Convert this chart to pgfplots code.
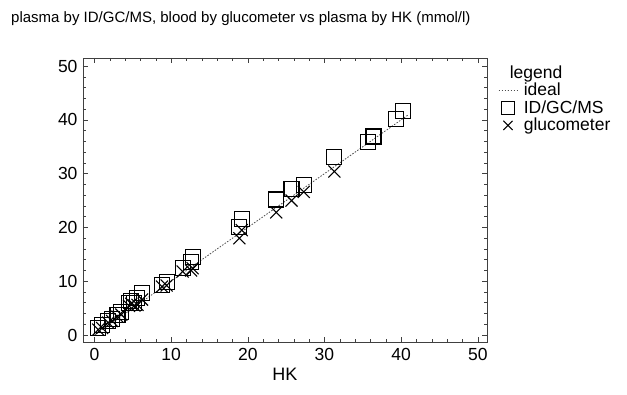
\documentclass[border=0pt]{standalone}
\usepackage{pgfplots}
\pgfplotsset{compat=1.18}
\usepackage{fontspec}
\setmainfont{Liberation Sans}
\begin{document}
\begin{tikzpicture}[x=1pt,y=1pt]
\useasboundingbox (0,0) rectangle (627,395);
\node[anchor=base west,font=\fontsize{15}{18}\selectfont,inner sep=0pt] at (11,372) {plasma by ID/GC/MS, blood by glucometer vs plasma by HK (mmol/l)};
\begin{axis}[
  at={(83pt,53pt)}, anchor=south west,
  scale only axis, width=404pt, height=284pt,
  xmin=-1.5, xmax=51.2, ymin=-1.3, ymax=51.5,
  xtick={0,10,...,50}, ytick={0,10,...,50},
  minor x tick num=4, minor y tick num=4,
  tick align=inside,
  major tick length=5pt, minor tick length=3pt,
  axis line style={black!75, line width=0.8pt},
  every tick/.style={black!75, line width=0.6pt},
  tick label style={font=\fontsize{17.5}{20}\selectfont},
  /pgf/number format/assume math mode=true,
  xticklabel style={yshift=-3pt},
  yticklabel style={xshift=-2pt},
  xlabel={HK},
  xlabel style={font=\fontsize{18}{20}\selectfont, yshift=0pt},
  legend style={at={(1.0,0.985)}, anchor=north west, draw=none, fill=none,
    font=\fontsize{17.5}{20}\selectfont, row sep=0.5pt, column sep=5pt, xshift=8pt,
    nodes={inner sep=1pt, text depth=2pt, text height=13pt}},
  legend cell align=left,
  legend image post style={mark size=6.5pt},
  legend image code/.code={
    \draw[mark repeat=2,mark phase=2,#1] plot coordinates {(0cm,0cm) (0.33cm,0cm) (0.66cm,0cm)};
  },
]
\addlegendimage{empty legend}\addlegendentry{\hspace{-14pt}legend}
\addplot[black!70, dash pattern=on 1.5pt off 1.5pt, line width=0.8pt, no marks] coordinates {(0,0) (41,41)};
\addlegendentry{ideal}
\addplot[only marks, mark=square, mark size=7.5pt, mark options={line width=1.1pt, black}] coordinates {
(0.5,1.3) (1.0,1.8) (1.8,2.6) (2.3,3.0) (3.0,3.8) (3.5,4.3) (4.5,5.9) (4.8,6.3) (5.2,6.0) (5.6,6.8) (6.2,7.8)
(8.8,9.3) (9.4,9.8) (11.5,12.5) (12.6,13.6) (12.8,14.5) (18.9,20.0) (19.2,21.5) (23.7,25.2) (25.7,27.1)
(27.3,27.9) (31.3,33.1) (35.7,35.8) (36.4,36.9) (39.3,40.1) (40.2,41.6)
};
\addlegendentry{ID/GC/MS}
\addplot[only marks, mark=x, mark size=8.5pt, mark options={line width=1.1pt, black}] coordinates {
(0.5,1.0) (1.0,1.3) (1.8,2.3) (2.3,2.6) (3.0,3.4) (3.5,3.8) (4.5,5.4) (4.8,5.8) (5.2,5.5) (5.6,5.6) (6.2,6.6)
(8.8,9.0) (9.4,9.2) (11.5,11.8) (12.6,12.0) (12.8,12.4) (18.9,18.0) (19.2,19.5) (23.7,22.8) (25.7,25.0)
(27.3,26.6) (31.3,30.4)
};
\addlegendentry{glucometer}
\end{axis}
\end{tikzpicture}
\end{document}
